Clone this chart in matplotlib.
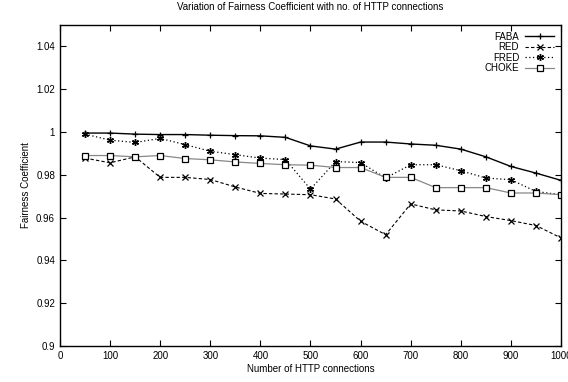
import matplotlib
matplotlib.use("Agg")
import matplotlib.pyplot as plt

connections = [50, 100, 150, 200, 250, 300, 350, 400, 450, 500,
               550, 600, 650, 700, 750, 800, 850, 900, 950, 1000]
faba = [0.9995, 0.9995, 0.999, 0.9988, 0.9988, 0.9985, 0.9983, 0.9982, 0.9975, 0.9935,
        0.992, 0.9953, 0.9953, 0.9944, 0.9938, 0.992, 0.9884, 0.9839, 0.9808, 0.9774]
red = [0.9878, 0.9856, 0.9884, 0.9788, 0.9788, 0.9778, 0.9743, 0.9713, 0.971, 0.9707,
       0.9687, 0.9583, 0.952, 0.9664, 0.9636, 0.9631, 0.9605, 0.9586, 0.9563, 0.9505]
fred = [0.999, 0.9962, 0.9951, 0.997, 0.9941, 0.991, 0.9894, 0.9878, 0.9871, 0.9733,
        0.9862, 0.9857, 0.9785, 0.9847, 0.9847, 0.9819, 0.9785, 0.9777, 0.9722, 0.9707]
choke = [0.989, 0.989, 0.9884, 0.989, 0.9876, 0.987, 0.986, 0.9853, 0.9847, 0.9845,
         0.9834, 0.9834, 0.9788, 0.9788, 0.974, 0.974, 0.974, 0.9715, 0.9715, 0.9707]

xticks = [0, 100, 200, 300, 400, 500, 600, 700, 800, 900, 1000]
yticks = [0.9, 0.92, 0.94, 0.96, 0.98, 1.0, 1.02, 1.04]
ytick_labels = ["0.9", "0.92", "0.94", "0.96", "0.98", "1", "1.02", "1.04"]

plt.rcParams['font.family'] = ['Liberation Sans', 'DejaVu Sans']
fig = plt.figure(figsize=(5.68, 3.82), dpi=100)
ax = fig.add_axes([0.1056, 0.0942, 0.8821, 0.8404])

ax.plot(connections, faba, color='black', lw=1.0, ls='-', marker='+', ms=5, mew=0.9, label='FABA')
ax.plot(connections, red, color='black', lw=0.8, ls=(0, (3, 2)), marker='x', ms=4, mew=0.9, label='RED')
ax.plot(connections, fred, color='black', lw=0.9, ls=(0, (1, 2)), marker=(6, 2, 0), ms=5, mew=1.0, label='FRED')
ax.plot(connections, choke, color='#888888', lw=0.9, ls='-', marker='s', ms=4.5, mfc='white',
        mec='black', mew=0.9, label='CHOKE')

ax.set_xlim(0, 1000)
ax.set_ylim(0.9, 1.05)
ax.set_xticks(xticks)
ax.set_yticks(yticks)
ax.set_yticklabels(ytick_labels)
ax.tick_params(direction='in', top=True, right=True, labelsize=7, length=4, width=0.8)
for s in ax.spines.values():
    s.set_linewidth(1.0)

ax.set_xlabel('Number of HTTP connections', fontsize=7, labelpad=2)
ax.set_ylabel('Fairness Coefficient', fontsize=7, labelpad=4)
ax.set_title('Variation of Fairness Coefficient with no. of HTTP connections', fontsize=7, pad=11)

ax.legend(loc='upper right', frameon=False, fontsize=7, markerfirst=False, handlelength=3,
          labelspacing=0.05, borderaxespad=0.3, handletextpad=0.6)

fig.savefig('out.png', dpi=100)
